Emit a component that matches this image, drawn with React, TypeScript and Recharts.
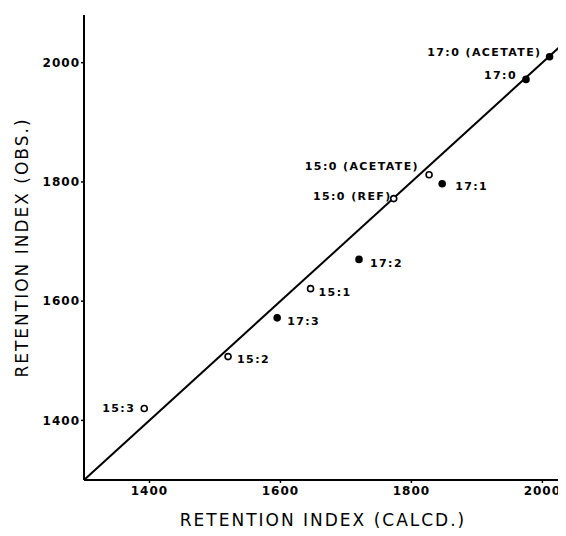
import React from "react";
import { ScatterChart, Scatter, XAxis, YAxis, ReferenceLine, Label } from "recharts";

// C15 compounds (open circles)
const c15Labels = ["15:0 (ACETATE)", "15:0 (REF)", "15:1", "15:2", "15:3"];
const c15Calcd = [1827, 1773, 1646, 1520, 1392];
const c15Obs = [1812, 1772, 1621, 1507, 1420];

// C17 compounds (filled circles)
const c17Labels = ["17:0 (ACETATE)", "17:0", "17:1", "17:2", "17:3"];
const c17Calcd = [2011, 1975, 1847, 1720, 1595];
const c17Obs = [2010, 1972, 1797, 1670, 1572];

const xTicks = [1400, 1600, 1800, 2000];
const yTicks = [1400, 1600, 1800, 2000];
const xDomain = [1300, 2030];
const yDomain = [1300, 2080];
const identityLine = [
  { x: 1300, y: 1300 },
  { x: 2037, y: 2037 },
];

const c15Data = c15Labels.map((label, i) => ({ label, calcd: c15Calcd[i], obs: c15Obs[i] }));
const c17Data = c17Labels.map((label, i) => ({ label, calcd: c17Calcd[i], obs: c17Obs[i] }));

// label placement relative to marker (styling)
const labelPlacement: Record<string, { anchor: "start" | "end"; dx: number; dy: number }> = {
  "17:0 (ACETATE)": { anchor: "end", dx: -8, dy: -4 },
  "17:0": { anchor: "end", dx: -9, dy: -4 },
  "15:0 (ACETATE)": { anchor: "end", dx: -10, dy: -8 },
  "15:0 (REF)": { anchor: "end", dx: -2, dy: -2 },
  "17:1": { anchor: "start", dx: 13, dy: 3 },
  "17:2": { anchor: "start", dx: 11, dy: 4 },
  "15:1": { anchor: "start", dx: 8, dy: 4 },
  "17:3": { anchor: "start", dx: 10, dy: 4 },
  "15:2": { anchor: "start", dx: 9, dy: 3 },
  "15:3": { anchor: "end", dx: -9, dy: 0 },
};

const FONT = "'DejaVu Sans', sans-serif";

const makeShape = (filled: boolean) => (props: any) => {
  const { cx, cy, payload } = props;
  const p = labelPlacement[payload.label] || { anchor: "start", dx: 8, dy: 0 };
  return (
    <g>
      <circle cx={cx} cy={cy} r={3} fill={filled ? "#000" : "#fff"} stroke="#000" strokeWidth={1.6} />
      <text
        x={cx + p.dx}
        y={cy + p.dy}
        textAnchor={p.anchor}
        dominantBaseline="central"
        fontFamily={FONT}
        fontWeight="bold"
        fontSize={11}
        letterSpacing={1.4}
        fill="#000"
      >
        {payload.label}
      </text>
    </g>
  );
};

const tickStyle = { fontFamily: FONT, fontWeight: "bold", fontSize: 12, fill: "#000", letterSpacing: 1 } as any;

export default function App() {
  return (
    <div style={{ width: 558, height: 528, background: "#fff" }}>
      <ScatterChart width={558} height={528} margin={{ top: 7, right: 4, bottom: 0, left: 0 }}>
        <XAxis
          type="number"
          dataKey="calcd"
          domain={xDomain}
          ticks={xTicks}
          allowDataOverflow
          height={56}
          tick={tickStyle}
          tickSize={3}
          tickMargin={3}
          axisLine={{ stroke: "#000", strokeWidth: 2 }}
          tickLine={{ stroke: "#000", strokeWidth: 1.5 }}
        >
          <Label
            content={(props: any) => {
              const vb = props.viewBox || {};
              return (
                <text
                  x={vb.x + vb.width / 2}
                  y={512}
                  textAnchor="middle"
                  dominantBaseline="central"
                  fontFamily={FONT}
                  fontSize={17}
                  letterSpacing={2}
                  fill="#000"
                >
                  RETENTION INDEX (CALCD.)
                </text>
              );
            }}
          />
        </XAxis>
        <YAxis
          type="number"
          dataKey="obs"
          domain={yDomain}
          ticks={yTicks}
          allowDataOverflow
          width={76}
          tick={tickStyle}
          tickSize={3}
          tickMargin={1}
          axisLine={{ stroke: "#000", strokeWidth: 2 }}
          tickLine={{ stroke: "#000", strokeWidth: 1.5 }}
        >
          <Label
            content={(props: any) => {
              const vb = props.viewBox || {};
              const cy = vb.y + vb.height / 2;
              return (
                <text
                  x={14}
                  y={cy}
                  transform={`rotate(-90 14 ${cy})`}
                  textAnchor="middle"
                  dominantBaseline="central"
                  fontFamily={FONT}
                  fontSize={17}
                  letterSpacing={2}
                  fill="#000"
                >
                  RETENTION INDEX (OBS.)
                </text>
              );
            }}
          />
        </YAxis>
        <ReferenceLine segment={identityLine} stroke="#000" strokeWidth={2} ifOverflow="visible" />
        <Scatter data={c15Data} shape={makeShape(false)} isAnimationActive={false} />
        <Scatter data={c17Data} shape={makeShape(true)} isAnimationActive={false} />
      </ScatterChart>
    </div>
  );
}
